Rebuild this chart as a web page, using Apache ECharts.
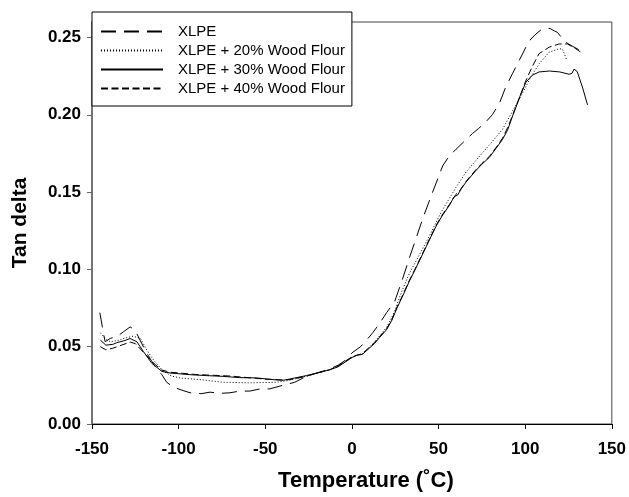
<!DOCTYPE html>
<html>
<head>
<meta charset="utf-8">
<script src="https://cdn.jsdelivr.net/npm/echarts@6/dist/echarts.min.js"></script>
<style>
html,body{margin:0;padding:0;background:#fff;}
#chart{width:629px;height:497px;}
</style>
</head>
<body>
<div id="chart"></div>
<script>
// Series names
var seriesNames = ['XLPE', 'XLPE + 20% Wood Flour', 'XLPE + 30% Wood Flour', 'XLPE + 40% Wood Flour'];

// Tick labels
var xTicks = [-150, -100, -50, 0, 50, 100, 150];
var yTicks = [0, 0.05, 0.10, 0.15, 0.20, 0.25];

// [Temperature (°C), Tan delta]
var xlpe = [[-145.5,0.072],[-144.5,0.066],[-143.5,0.059],[-142.4,0.0532],[-139.5,0.0553],[-135,0.057],[-131.9,0.0596],[-128,0.0628],[-125.1,0.0607],[-122.3,0.0543],[-118.4,0.0457],[-113.6,0.0372],[-109.7,0.0319],[-106.9,0.027],[-103,0.0238],[-99.2,0.0223],[-93.4,0.0202],[-87,0.0196],[-81.9,0.0206],[-76,0.0198],[-70.4,0.0202],[-64.6,0.0213],[-58.9,0.0213],[-53,0.0227],[-47.4,0.0227],[-41.6,0.0245],[-38,0.0255],[-33,0.027],[-26,0.031],[-20,0.033],[-13,0.0355],[-8,0.038],[-4,0.041],[0,0.046],[5,0.050],[8.3,0.054],[12,0.059],[16,0.065],[20,0.072],[24.6,0.079],[29,0.093],[33.2,0.1075],[37,0.12],[40.9,0.133],[46.6,0.150],[52.4,0.167],[56,0.173],[60.1,0.1777],[65,0.183],[69.7,0.188],[73,0.191],[77.4,0.1955],[81,0.200],[85,0.207],[88.8,0.218],[92.7,0.2267],[96.5,0.235],[100.4,0.2437],[103.3,0.249],[106.2,0.2522],[109,0.2548],[111.9,0.256],[114.5,0.2557],[116.7,0.2543],[118.6,0.2533],[121,0.25],[124,0.2465],[127,0.2445],[130,0.2427],[132.5,0.2405]];

var wf20 = [[-145.2,0.059],[-142,0.055],[-139.5,0.0532],[-135,0.054],[-131.9,0.0553],[-126.3,0.0568],[-122,0.0553],[-118.4,0.0479],[-114.6,0.0415],[-108.8,0.034],[-104,0.031],[-99.2,0.0298],[-87.7,0.0287],[-74.3,0.027],[-58.9,0.0266],[-43.5,0.027],[-35.9,0.0283],[-26,0.031],[-20,0.033],[-13,0.035],[-8,0.037],[-4,0.040],[0,0.043],[3,0.0445],[6,0.0455],[10,0.0495],[13,0.053],[16,0.057],[20,0.0625],[23,0.069],[25,0.074],[27.5,0.082],[30,0.089],[33,0.097],[39,0.1096],[44,0.120],[48.6,0.1305],[52,0.138],[56.3,0.146],[60,0.153],[65.9,0.163],[72,0.171],[77.4,0.178],[82,0.184],[86.9,0.1905],[89,0.1948],[93,0.203],[98.5,0.214],[103,0.224],[108.1,0.233],[113.8,0.2405],[119.6,0.2427],[121.5,0.2425],[123.8,0.236]];

var wf30 = [[-145.2,0.0543],[-142,0.051],[-138,0.0515],[-135.7,0.0526],[-131,0.054],[-128,0.0553],[-124.1,0.0532],[-120.3,0.0468],[-115.5,0.0393],[-109.7,0.034],[-105,0.033],[-93.5,0.0319],[-84,0.0313],[-74.3,0.0308],[-65,0.030],[-55,0.0298],[-45.5,0.0287],[-39.7,0.0283],[-35.9,0.0291],[-26.3,0.0313],[-20,0.033],[-13,0.035],[-8,0.037],[-4,0.040],[0,0.043],[3,0.0445],[6,0.045],[10,0.049],[13,0.052],[16,0.056],[20,0.061],[23,0.067],[26,0.075],[29.4,0.083],[33,0.092],[37,0.101],[43,0.115],[48.6,0.128],[52,0.1345],[56.3,0.1415],[59,0.147],[61,0.148],[63,0.152],[65.9,0.1565],[71.6,0.164],[75,0.168],[79.3,0.1724],[83,0.178],[86.9,0.184],[89.8,0.190],[93,0.200],[97,0.212],[100.4,0.221],[104,0.2255],[108,0.2277],[114,0.2283],[120,0.2277],[125.4,0.2262],[127,0.2268],[128.2,0.2295],[130,0.228],[133,0.218],[136,0.2064]];

var wf40 = [[-145.2,0.050],[-142,0.048],[-138,0.049],[-133,0.051],[-128,0.053],[-125,0.052],[-120,0.046],[-115,0.040],[-110,0.035],[-105,0.0335],[-100,0.033],[-90,0.032],[-80,0.0315],[-70,0.031],[-60,0.030],[-50,0.029],[-40,0.0285],[-35,0.0288],[-26,0.031],[-20,0.033],[-13,0.035],[-8,0.0375],[-4,0.0405],[0,0.0435],[3,0.0445],[6,0.0455],[10,0.0495],[13,0.0525],[16,0.0565],[20,0.0615],[23,0.0675],[26,0.0755],[29.4,0.0835],[33,0.0925],[37,0.1015],[43,0.1155],[48.6,0.1285],[52,0.135],[56.3,0.142],[60,0.1485],[62,0.1505],[65.9,0.157],[71.6,0.1645],[75,0.1685],[79.3,0.173],[83,0.1785],[86.9,0.1848],[90,0.192],[95,0.206],[100,0.221],[104,0.231],[108,0.2395],[113.8,0.2437],[119.6,0.2458],[124.4,0.2458],[129.2,0.2427],[132.1,0.2405]];

var seriesData = [xlpe, wf20, wf30, wf40];
var dashTypes = [[15, 8], [1, 2], 'solid', [7, 3.5]];

var FONT = 'Liberation Sans, Arial, Helvetica, sans-serif';
var chart = echarts.init(document.getElementById('chart'), null, {renderer: 'canvas'});

var series = seriesNames.map(function (name, i) {
  return {
    name: name,
    type: 'line',
    data: seriesData[i],
    symbol: 'none',
    smooth: false,
    silent: true,
    animation: false,
    lineStyle: {color: '#000', width: 1, type: dashTypes[i]},
    itemStyle: {color: '#000'}
  };
});

chart.setOption({
  animation: false,
  backgroundColor: '#fff',
  grid: {left: 92, right: 16, top: 22, bottom: 69, show: true, borderColor: '#444', borderWidth: 1, backgroundColor: 'transparent'},
  legend: {
    orient: 'vertical',
    left: 92,
    top: 12,
    padding: [12, 7, 10, 8],
    itemWidth: 62,
    itemHeight: 14,
    itemGap: 4,
    backgroundColor: '#fff',
    borderColor: '#000',
    borderWidth: 1,
    z: 10,
    data: seriesNames,
    itemStyle: {color: 'rgba(0,0,0,0)', borderWidth: 0},
    textStyle: {fontFamily: FONT, fontSize: 15, color: '#000', padding: [0, 0, 0, 10]},
    selectedMode: false
  },
  xAxis: {
    type: 'value',
    min: -150,
    max: 150,
    interval: 50,
    name: 'Temperature (\u02DAC)',
    nameLocation: 'middle',
    nameGap: 46,
    nameTextStyle: {fontFamily: FONT, fontSize: 22, fontWeight: 'bold', color: '#000', padding: [0, 0, 0, 28]},
    splitLine: {show: false},
    axisLine: {onZero: false, lineStyle: {color: '#000', width: 1}},
    axisTick: {show: true, inside: false, length: 5, lineStyle: {color: '#000'}, customValues: xTicks},
    axisLabel: {fontFamily: FONT, fontSize: 17, fontWeight: 'bold', color: '#000', margin: 17, customValues: xTicks, formatter: function (v) { return String(v); }}
  },
  yAxis: {
    type: 'value',
    min: 0,
    max: 0.26,
    interval: 0.05,
    name: 'Tan delta',
    nameLocation: 'middle',
    nameGap: 61,
    nameTextStyle: {fontFamily: FONT, fontSize: 21, fontWeight: 'bold', color: '#000', padding: [0, 0, 0, 0]},
    splitLine: {show: false},
    axisLine: {onZero: false, lineStyle: {color: '#666', width: 1.5}},
    axisTick: {show: true, inside: false, length: 5, lineStyle: {color: '#666'}, customValues: yTicks},
    axisLabel: {fontFamily: FONT, fontSize: 17, fontWeight: 'bold', color: '#000', margin: 11, customValues: yTicks, formatter: function (v) { return v.toFixed(2); }}
  },
  series: series
});
</script>
</body>
</html>
